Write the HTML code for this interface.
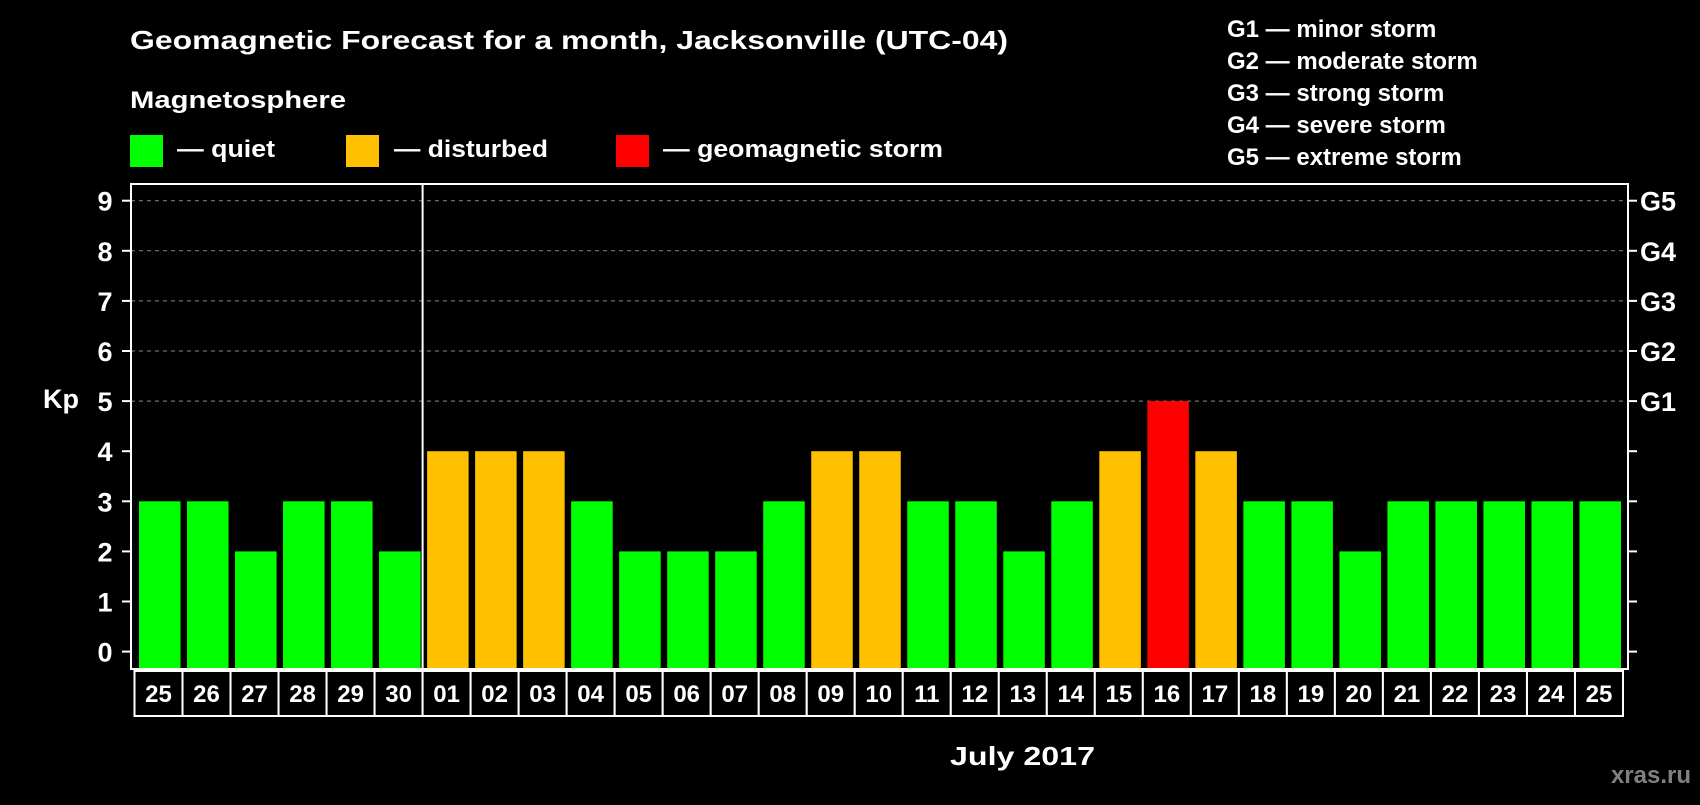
<!DOCTYPE html>
<html><head><meta charset="utf-8"><style>
html,body{margin:0;padding:0;background:#000;}
svg text{font-family:"Liberation Sans",Arial,sans-serif;font-weight:bold;fill:#fff;}
</style></head><body>
<svg id="chart" width="1700" height="800" viewBox="0 0 1700 800" xmlns="http://www.w3.org/2000/svg">
<rect width="1700" height="800" fill="#000"/>
<text x="130" y="49" font-size="26" textLength="878" lengthAdjust="spacingAndGlyphs">Geomagnetic Forecast for a month, Jacksonville (UTC-04)</text>
<text x="130" y="108" font-size="24" textLength="216" lengthAdjust="spacingAndGlyphs">Magnetosphere</text>
<rect x="130" y="135" width="33" height="32" fill="#00ff00"/>
<text x="177" y="157" font-size="24" textLength="98" lengthAdjust="spacingAndGlyphs">— quiet</text>
<rect x="346" y="135" width="33" height="32" fill="#ffc000"/>
<text x="394" y="157" font-size="24" textLength="154" lengthAdjust="spacingAndGlyphs">— disturbed</text>
<rect x="616" y="135" width="33" height="32" fill="#ff0000"/>
<text x="663" y="157" font-size="24" textLength="280" lengthAdjust="spacingAndGlyphs">— geomagnetic storm</text>
<g font-size="24">
<text x="1227" y="37">G1 — minor storm</text>
<text x="1227" y="69">G2 — moderate storm</text>
<text x="1227" y="101">G3 — strong storm</text>
<text x="1227" y="133">G4 — severe storm</text>
<text x="1227" y="165">G5 — extreme storm</text>
</g>
<text x="43" y="408" font-size="27">Kp</text>
<text x="950" y="765" font-size="26" textLength="145" lengthAdjust="spacingAndGlyphs">July 2017</text>
<text x="1691" y="783" font-size="24" text-anchor="end" style="fill:#808080">xras.ru</text>
<g id="grid"></g><g id="bars"></g><g id="axes"></g><g id="days"></g>
</svg>
<script>
const days = ["25","26","27","28","29","30","01","02","03","04","05","06","07","08","09","10","11","12","13","14","15","16","17","18","19","20","21","22","23","24","25"];
const kpValues = [3,3,2,3,3,2,4,4,4,3,2,2,2,3,4,4,3,3,2,3,4,5,4,3,3,2,3,3,3,3,3];
const yTicks = [0,1,2,3,4,5,6,7,8,9];
const gLabels = ["G1","G2","G3","G4","G5"];
const gLevels = [5,6,7,8,9];
const NS="http://www.w3.org/2000/svg";
const L=131, R=1628, T=184, B=669;
const y0=651.6, yPer=50.1;
const y=v=>y0-v*yPer;
const slot=(1623-134.5)/days.length;
const x=i=>134.5+i*slot;
function mk(tag,attrs,parent){const e=document.createElementNS(NS,tag);for(const k in attrs)e.setAttribute(k,attrs[k]);parent.appendChild(e);return e;}
const grid=document.getElementById('grid'),bars=document.getElementById('bars'),axes=document.getElementById('axes'),dg=document.getElementById('days');
yTicks.forEach(v=>{
  if(v>=5){const ln=mk('line',{x1:L,x2:R,y1:y(v),y2:y(v),stroke:'#888','stroke-dasharray':'4,4','stroke-width':1},grid);
  
  }
  const t=mk('line',{x1:L-9,x2:L,y1:y(v),y2:y(v),stroke:'#fff','stroke-width':2},axes);
  
  
  const t2=mk('line',{x1:R,x2:R+9,y1:y(v),y2:y(v),stroke:'#fff','stroke-width':2},axes);
  
  
  const lb=mk('text',{x:105,y:y(v)+10,'font-size':27,'text-anchor':'middle'},axes);
  lb.textContent=v;
  
  
});
gLabels.forEach((g,i)=>{
  const lb=mk('text',{x:1640,y:y(gLevels[i])+10,'font-size':27},axes);
  lb.textContent=g;
  
  
});
kpValues.forEach((v,i)=>{
  const c=v>=5?'#ff0000':(v>=4?'#ffc000':'#00ff00');
  const r=mk('rect',{x:x(i)+4.5,y:y(v),width:slot-6.5,height:B-y(v)-1,fill:c},bars);
  
  
});
const fr=mk('rect',{x:L,y:T,width:R-L,height:B-T,fill:'none',stroke:'#fff','stroke-width':2},axes);


const dv=mk('line',{x1:x(6),x2:x(6),y1:T,y2:B,stroke:'#fff','stroke-width':2},axes);


days.forEach((d,i)=>{
  const b=mk('rect',{x:x(i),y:671,width:slot,height:45,fill:'#000',stroke:'#fff','stroke-width':2},dg);
  
  
  const t=mk('text',{x:x(i)+slot/2,y:702,'font-size':24,'text-anchor':'middle'},dg);
  t.textContent=d;
  
  
});
</script>
</body></html>
